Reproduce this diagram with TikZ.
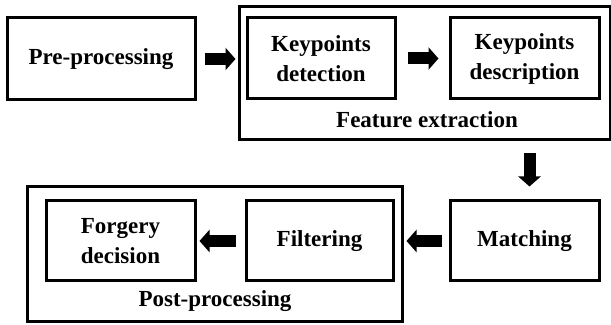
\documentclass[tikz,border=0pt]{standalone}
\usepackage{fontspec}
\setmainfont{Liberation Serif}
\usetikzlibrary{arrows.meta}

\tikzset{
  stage/.style={draw, line width=1.5pt, align=center, inner sep=2pt,
    font=\fontsize{11.5}{15}\selectfont\bfseries},
  group/.style={draw, line width=1.5pt, inner sep=0pt},
  grouplabel/.style={anchor=base, font=\fontsize{11.5}{15}\selectfont\bfseries},
  blockarrow/.style={line width=6pt, -{Triangle[length=5pt,width=11pt]}},
}

\begin{document}
\begin{tikzpicture}[x=0.5pt, y=-0.5pt]
\useasboundingbox (0,0) rectangle (611,325);

%------------------ TOP ROW ------------------%
\node[group, minimum width=185.5pt, minimum height=66.5pt] (feat) at (424.5,73.5) {};
\node[grouplabel] (featlbl) at (427,128) {Feature extraction};

\node[stage, minimum width=94pt, minimum height=41pt] (pre) at (101,59) {Pre-processing};
\node[stage, minimum width=74pt, minimum height=40.5pt] (kdet) at (321,58.5) {Keypoints\\detection};
\node[stage, minimum width=74.5pt, minimum height=40.5pt] (kdesc) at (524.5,58.5) {Keypoints\\description};

%------------------ BOTTOM ROW ------------------%
\node[group, minimum width=187.5pt, minimum height=67.5pt] (post) at (214.5,254.5) {};
\node[grouplabel] (postlbl) at (215,307) {Post-processing};

\node[stage, minimum width=74.5pt, minimum height=40pt] (match) at (524.5,241) {Matching};
\node[stage, minimum width=73.5pt, minimum height=40pt] (filt) at (319.5,241) {Filtering};
\node[stage, minimum width=74.5pt, minimum height=40pt] (forg) at (120.5,241) {Forgery\\decision};

%------------------ ARROWS ------------------%
\draw[blockarrow, shorten <=4pt, shorten >=1pt] (pre.east) -- (pre.east -| feat.west);
\draw[blockarrow, shorten <=5.5pt, shorten >=5pt] (kdet) -- (kdesc);
\draw[blockarrow, shorten <=6pt, shorten >=6.5pt]
  ([xshift=2.5pt]match.north |- feat.south) -- ([xshift=2.5pt]match.north);
\draw[blockarrow, shorten <=3.5pt, shorten >=1.5pt] (match.west) -- (match.west -| post.east);
\draw[blockarrow, shorten <=4.5pt, shorten >=1.5pt] (filt) -- (forg);

\end{tikzpicture}
\end{document}
